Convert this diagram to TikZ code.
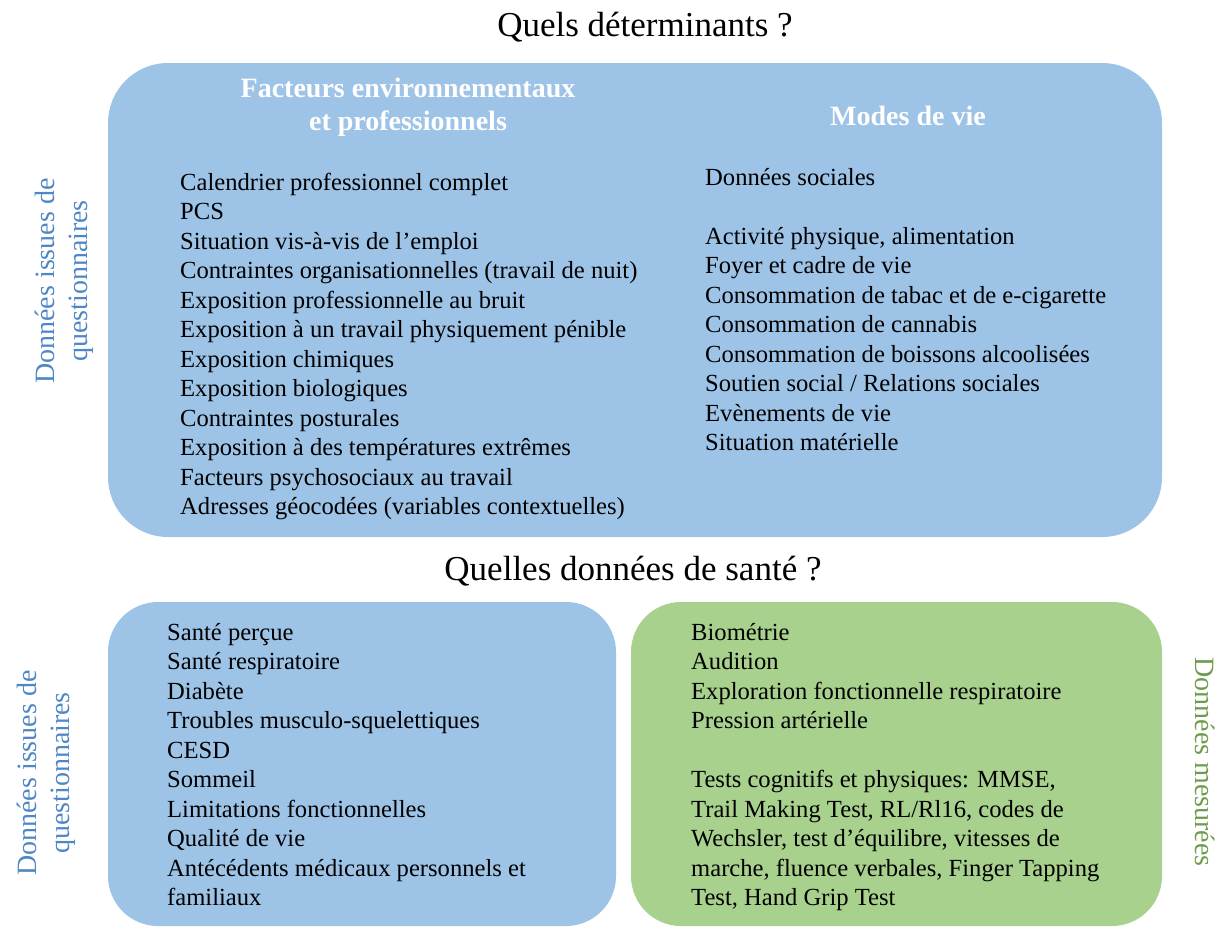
\documentclass[tikz,border=0pt]{standalone}
\usepackage{fontspec}
\setmainfont{Liberation Serif}
\definecolor{boxblue}{HTML}{9DC3E6}
\definecolor{boxgreen}{HTML}{A9D18E}
\definecolor{labblue}{HTML}{4F87C5}
\definecolor{labgreen}{HTML}{6E9C4F}
\tikzset{
  detbox/.style={fill=boxblue,rounded corners=60pt,minimum width=1054pt,minimum height=474pt,inner sep=0pt},
  santebox/.style={rounded corners=50pt,minimum height=324pt,inner sep=0pt},
  item/.style={anchor=base west,inner sep=0pt,font=\fontsize{24.6}{29.5}\selectfont},
  head/.style={anchor=base,inner sep=0pt,text=white,align=center,font=\fontsize{28}{33}\selectfont\bfseries},
  titre/.style={anchor=base,inner sep=0pt,font=\fontsize{35}{40}\selectfont},
  side/.style={inner sep=0pt,align=center,font=\fontsize{28}{33}\selectfont}
}
\begin{document}
\begin{tikzpicture}[x=1pt,y=-1pt]
\useasboundingbox (0,0) rectangle (1228,930);

% boxes
\node[detbox] (det) at (635,300) {};
\node[santebox,fill=boxblue,minimum width=508pt] (quest) at (362,764) {};
\node[santebox,fill=boxgreen,minimum width=531pt] (mes) at (896.5,764) {};

% titles
\node[titre] (t1) at (645,36) {Quels déterminants ?};
\node[titre] (t2) at (633,580) {Quelles données de santé ?};

% side labels
\node[side,text=labblue,rotate=90] (s1) at (64,281) {Données issues de\\questionnaires};
\node[side,text=labblue,rotate=90] (s2) at (46,773) {Données issues de\\questionnaires};
\node[side,text=labgreen,rotate=-90] (s3) at (1205,762) {Données mesurées};

% headings
\node[head] (h1) at (408,130) {Facteurs environnementaux\\et professionnels};
\node[head] (h2) at (908,125) {Modes de vie};

% determinants
\foreach \txt [count=\i] in {Calendrier professionnel complet, PCS,
  Situation vis-à-vis de l’emploi,
  Contraintes organisationnelles (travail de nuit),
  Exposition professionnelle au bruit,
  Exposition à un travail physiquement pénible,
  Exposition chimiques, Exposition biologiques, Contraintes posturales,
  Exposition à des températures extrêmes,
  Facteurs psychosociaux au travail,
  Adresses géocodées (variables contextuelles)}
  \node[item] (env\i) at (180,{190+(\i-1)*29.5}) {\txt};

\node[item] (vie0) at (705,185) {Données sociales};
\foreach \txt [count=\i] in {{Activité physique, alimentation},
  Foyer et cadre de vie,
  Consommation de tabac et de e-cigarette,
  Consommation de cannabis,
  Consommation de boissons alcoolisées,
  Soutien social / Relations sociales,
  Evènements de vie, Situation matérielle}
  \node[item] (vie\i) at (705,{244+(\i-1)*29.5}) {\txt};

% health data
\foreach \txt [count=\i] in {Santé perçue, Santé respiratoire, Diabète,
  Troubles musculo-squelettiques, CESD, Sommeil,
  Limitations fonctionnelles, Qualité de vie,
  Antécédents médicaux personnels et, familiaux}
  \node[item] (q\i) at (167,{640+(\i-1)*29.5}) {\txt};

\foreach \txt [count=\i] in {Biométrie, Audition,
  Exploration fonctionnelle respiratoire, Pression artérielle}
  \node[item] (m\i) at (691,{640+(\i-1)*29.5}) {\txt};
\foreach \txt [count=\i] in {{Tests cognitifs et physiques: MMSE,},
  {Trail Making Test, RL/Rl16, codes de},
  {Wechsler, test d’équilibre, vitesses de},
  {marche, fluence verbales, Finger Tapping},
  {Test, Hand Grip Test}}
  \node[item] (c\i) at (691,{787.5+(\i-1)*29.5}) {\txt};
\end{tikzpicture}
\end{document}
